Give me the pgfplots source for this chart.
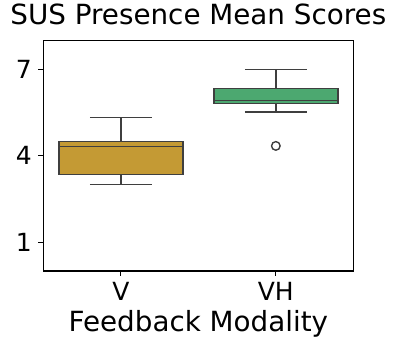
\documentclass[border=0pt]{standalone}
\usepackage{fontspec}
\setmainfont{DejaVu Sans}
\usepackage{pgfplots}
\pgfplotsset{compat=1.18}
\definecolor{vgold}{RGB}{196,154,52}
\definecolor{vhgreen}{RGB}{76,168,112}
\definecolor{edgegray}{RGB}{63,63,63}

\begin{document}
\begin{tikzpicture}
\path[use as bounding box] (0,0) rectangle (284.4pt,250.56pt);
\begin{axis}[
    at={(31.2pt,55.4pt)}, anchor=south west,
    scale only axis, width=223.2pt, height=166.1pt,
    xmin=-0.5, xmax=1.5, ymin=0, ymax=8,
    xtick={0,1}, xticklabels={V,VH},
    ytick={1,4,7},
    tick align=outside, tick pos=left,
    major tick length=3.5pt,
    every tick/.style={black, line width=0.8pt},
    axis line style={line width=0.8pt},
    /pgf/number format/assume math mode=true,
    tick label style={font=\fontsize{18}{21}\selectfont, inner sep=0pt},
    xticklabel style={anchor=base, yshift=-17.8pt},
    yticklabel style={anchor=east, xshift=-4.7pt},
    title={SUS Presence Mean Scores},
    title style={font=\fontsize{20}{24}\selectfont, at={(0.5,1)}, anchor=base, yshift=5.4pt, inner sep=0pt},
    xlabel={Feedback Modality},
    xlabel style={font=\fontsize{20}{24}\selectfont, at={(axis description cs:0.5,0)}, anchor=base, yshift=-43.7pt, inner sep=0pt},
    unbounded coords=jump,
]
% V: whiskers and caps
\addplot[edgegray, line width=1pt] coordinates {(0,3.35) (0,3.0) (0,nan) (-0.2,3.0) (0.2,3.0) (0,nan) (0,4.5) (0,5.33) (0,nan) (-0.2,5.33) (0.2,5.33)};
% V: box (Q1 to Q3) and median
\addplot[draw=edgegray, fill=vgold, line width=1pt] coordinates {(-0.4,3.35) (0.4,3.35) (0.4,4.5) (-0.4,4.5)} -- cycle;
\addplot[edgegray, line width=1pt] coordinates {(-0.4,4.31) (0.4,4.31)};
% VH: whiskers and caps
\addplot[edgegray, line width=1pt] coordinates {(1,5.82) (1,5.52) (0,nan) (0.8,5.52) (1.2,5.52) (0,nan) (1,6.33) (1,7.0) (0,nan) (0.8,7.0) (1.2,7.0)};
% VH: box and median
\addplot[draw=edgegray, fill=vhgreen, line width=1pt] coordinates {(0.6,5.82) (1.4,5.82) (1.4,6.33) (0.6,6.33)} -- cycle;
\addplot[edgegray, line width=1pt] coordinates {(0.6,5.92) (1.4,5.92)};
% VH: outlier
\addplot[only marks, mark=o, mark size=3.1pt, mark options={draw=edgegray, fill=white, line width=1pt}] coordinates {(1,4.34)};
\end{axis}
\end{tikzpicture}
\end{document}
